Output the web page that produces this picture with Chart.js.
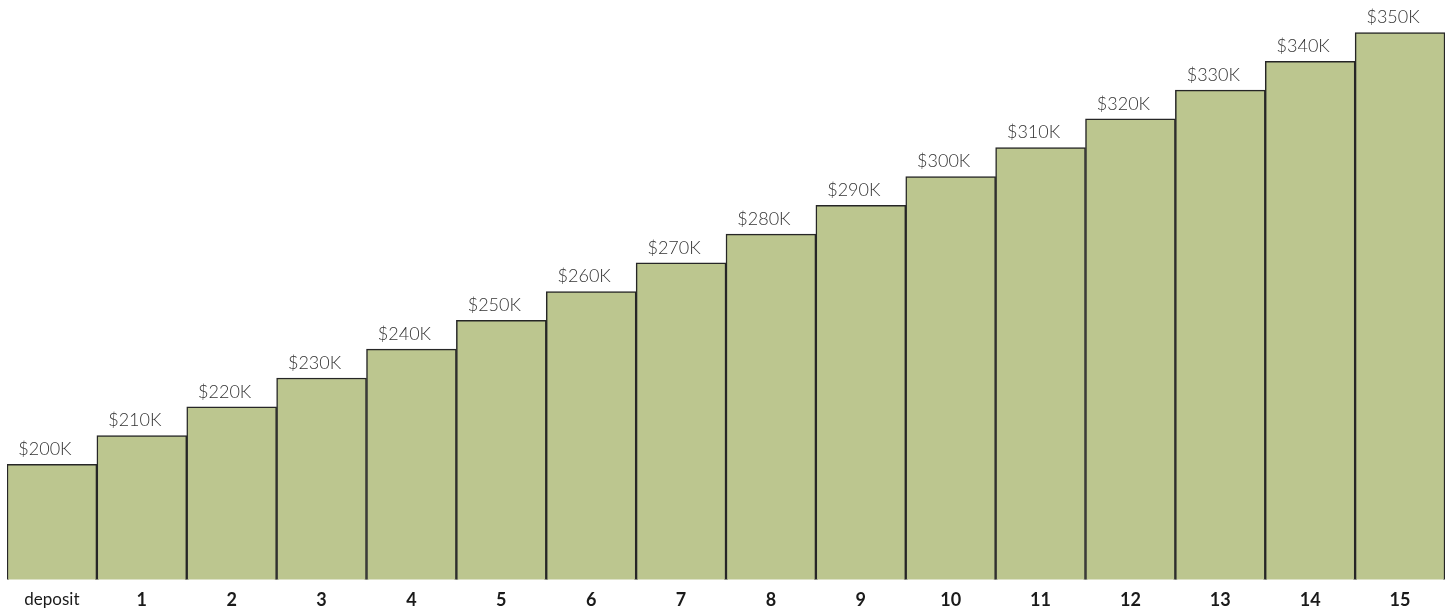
<!DOCTYPE html>
<html>
<head>
<meta charset="utf-8">
<script src="https://cdn.jsdelivr.net/npm/chart.js@4.4.1/dist/chart.umd.min.js"></script>
<style>
  html, body { margin: 0; padding: 0; background: #fff; }
  #wrap { width: 1445px; height: 611px; }
</style>
</head>
<body>
<div id="wrap"><canvas id="chart"></canvas></div>
<script>
const categories = ["deposit", "1", "2", "3", "4", "5", "6", "7", "8", "9", "10", "11", "12", "13", "14", "15"];
const balances = [200000, 210000, 220000, 230000, 240000, 250000, 260000, 270000, 280000, 290000, 300000, 310000, 320000, 330000, 340000, 350000];

const fmt = v => "$" + Math.round(v / 1000) + "K";

// draws the value above each bar
const valueLabels = {
    id: "valueLabels",
    afterDatasetsDraw(chart) {
        const ctx = chart.ctx;
        const meta = chart.getDatasetMeta(0);
        ctx.save();
        ctx.font = "300 18px Lato";
        ctx.fillStyle = "#333";
        ctx.textAlign = "center";
        ctx.textBaseline = "bottom";
        meta.data.forEach((bar, i) => {
            ctx.fillText(fmt(balances[i]), bar.x - 7, bar.y - 6);
        });
        ctx.restore();
    }
};

new Chart(document.getElementById("chart"), {
    type: "bar",
    data: {
        labels: categories,
        datasets: [{
            data: balances,
            backgroundColor: "#bcc68f",
            borderColor: "#262626",
            borderWidth: 1.5,
            borderSkipped: false,
            categoryPercentage: 1,
            barPercentage: 1
        }]
    },
    options: {
        responsive: true,
        maintainAspectRatio: false,
        animation: false,
        layout: { padding: { left: 7, right: 0, top: 0, bottom: 0 } },
        plugins: {
            legend: { display: false },
            tooltip: { enabled: false }
        },
        scales: {
            x: {
                grid: { display: false, drawTicks: false },
                border: { display: false },
                ticks: {
                    padding: 10,
                    color: "#1a1a1a",
                    maxRotation: 0,
                    autoSkip: false,
                    font: ctx => ctx.index === 0
                        ? { family: "Lato", size: 17, weight: "normal" }
                        : { family: "Lato", size: 18, weight: "bold" }
                },
                afterFit: s => { s.height = 31.5; }
            },
            y: {
                display: false,
                min: 160000,
                max: 361300
            }
        }
    },
    plugins: [valueLabels]
});
</script>
</body>
</html>
